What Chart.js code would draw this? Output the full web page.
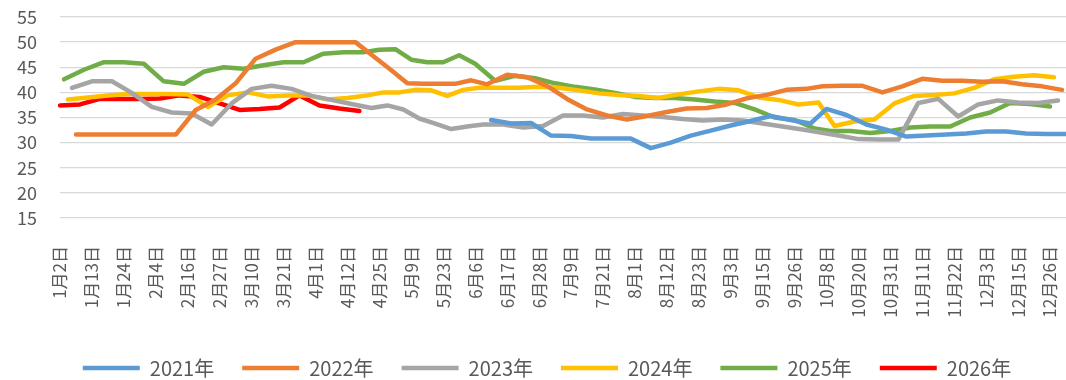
<!DOCTYPE html>
<html>
<head>
<meta charset="utf-8">
<script src="https://cdn.jsdelivr.net/npm/chart.js@4.4.1/dist/chart.umd.min.js"></script>
<style>
  html, body { margin: 0; padding: 0; background: #fff; }
  #wrap { width: 1066px; height: 380px; }
</style>
</head>
<body>
<div id="wrap"><canvas id="priceChart" width="1066" height="380"></canvas></div>
<script>
// weekly Friday quotes, one array per year; null = no quote that week
var seriesNames = ['2021年', '2022年', '2023年', '2024年', '2025年', '2026年'];
var seriesColors = ['#5B9BD5', '#ED7D31', '#A5A5A5', '#FFC000', '#70AD47', '#FF0000'];
var firstDates = ['2021-06-11', '2022-01-07', '2023-01-06', '2024-01-05', '2025-01-03', '2026-01-02'];

var v2021 = [34.5, 33.8, 33.9, 31.4, 31.3, 30.8, 30.8, 30.8, 28.9, 30.0,
             31.4, 32.4, 33.4, 34.3, 35.3, 34.5, 33.8, 36.7, 35.5, 33.6,
             32.6, 31.2, 31.4, 31.6, 31.8, 32.2, 32.2, 31.8, 31.7, 31.7];
var v2022 = [31.6, 31.6, 31.6, 31.6, 31.6, 31.6, 36.5, 38.6, 41.8, 46.7,
             48.5, 50.0, 50.0, 50.0, 50.0, 46.9, 44.4, 41.8, 41.7, 41.7,
             41.7, 42.4, 41.6, 43.5, 43.0, 41.3, 38.7, 36.6, 35.4, 34.6,
             35.3, 36.1, 36.8, 36.9, 37.6, 38.8, 39.5, 40.5, 40.7, 41.2,
             41.3, 41.3, 40.0, 41.2, 42.7, 42.3, 42.3, 42.1, 42.2, 41.6,
             41.2, 40.5];
var v2023 = [40.9, 42.2, 42.2, 39.9, 37.1, 36.0, 35.8, 33.6, 37.8, 40.7,
             41.3, 40.7, 39.3, 38.5, 37.7, 36.9, 37.4, 36.6, 34.8, 33.8,
             32.7, 33.2, 33.6, 33.6, 33.0, 33.3, 35.4, 35.4, 35.0, 35.7,
             35.4, 35.1, 34.7, 34.4, 34.6, 34.4, 33.8, 33.2, 32.6, null,
             31.4, 30.7, 30.6, 30.6, 37.9, 38.7, 35.2, 37.6, 38.4, 38.0,
             37.9, 38.4];
var v2024 = [38.6, 39.0, 39.4, 39.7, 39.7, 39.7, 39.6, 37.1, 39.4, 40.0,
             39.2, 39.4, 39.4, 38.6, 38.9, 39.4, 40.0, 40.0, 40.5, 40.4,
             39.3, 40.5, 40.9, 40.9, 40.9, 41.1, 40.9, 40.4, 39.8, 39.5,
             39.3, 38.9, 39.6, 40.2, 40.7, 40.4, 39.0, 38.5, 37.6, 38.0,
             33.3, 34.2, 34.6, 37.8, 39.3, 39.5, 39.8, 40.9, 42.6, 43.1,
             43.4, 43.0];
var v2025 = [42.6, 44.5, 46.0, 46.0, 45.7, 42.2, 41.7, 44.1, 45.0, 44.7,
             45.4, 46.0, 46.0, 47.7, 48.0, 48.0, 48.5, 48.6, 46.5, 46.0,
             46.0, 47.4, 45.7, 42.3, 43.3, 42.8, 41.8, 41.1, 40.6, 39.9,
             39.1, 38.9, 38.9, 38.6, 38.2, 37.9, 36.6, 35.0, 34.5, 32.8,
             32.3, 32.3, 31.9, 32.3, 33.0, 33.2, 33.2, 35.0, 36.0, 37.9,
             37.7, 37.2];
var v2026 = [37.4, 37.6, 38.7, 38.7, 38.7, 38.8, 39.4, 39.1, 37.8, 36.5,
             36.7, 37.0, 39.4, 37.4, 36.8, 36.3];

var allValues = [v2021, v2022, v2023, v2024, v2025, v2026];
var yTicks = { min: 15, max: 55, step: 5 };
var labelEvery = 8;

// every year's quotes keyed by month/day, so all years share one axis
var weekly = allValues.map(function (vals, s) {
  var p = firstDates[s].split('-').map(Number);
  return vals.map(function (v, k) {
    var d = new Date(p[0], p[1] - 1, p[2] + 7 * k);
    return { key: (d.getMonth() + 1) * 100 + d.getDate(), y: v };
  });
});

var keys = [];
weekly.forEach(function (list) {
  list.forEach(function (pt) {
    if (pt.y !== null && keys.indexOf(pt.key) < 0) keys.push(pt.key);
  });
});
keys.sort(function (a, b) { return a - b; });
var categories = keys.map(function (k) { return Math.floor(k / 100) + '月' + (k % 100) + '日'; });

var datasets = weekly.map(function (list, s) {
  var data = keys.map(function () { return null; });
  list.forEach(function (pt) {
    if (pt.y !== null) data[keys.indexOf(pt.key)] = pt.y;
  });
  return {
    label: seriesNames[s],
    data: data,
    borderColor: seriesColors[s],
    backgroundColor: seriesColors[s],
    borderWidth: 4.5,
    borderCapStyle: 'round',
    borderJoinStyle: 'round',
    pointRadius: 0,
    pointHoverRadius: 0,
    tension: 0,
    spanGaps: true
  };
});

var textColor = '#595959';
var fontFamily = '"Noto Sans CJK SC", "Noto Sans", sans-serif';

// nudge the legend row a little to the right of the canvas centre
var legendShift = {
  id: 'legendShift',
  afterLayout: function (chart) {
    chart.legend.left += 28;
  }
};

new Chart(document.getElementById('priceChart'), {
  type: 'line',
  data: { labels: categories, datasets: datasets },
  plugins: [legendShift],
  options: {
    responsive: false,
    animation: false,
    layout: { padding: { top: 17, right: 0, left: 0, bottom: -8 } },
    plugins: {
      tooltip: { enabled: false },
      legend: {
        position: 'bottom',
        labels: {
          usePointStyle: true,
          pointStyle: 'line',
          pointStyleWidth: 57,
          color: textColor,
          font: { family: fontFamily, size: 20 },
          padding: 28
        }
      }
    },
    scales: {
      x: {
        grid: { display: false },
        border: { display: false },
        ticks: {
          autoSkip: false,
          minRotation: 90,
          maxRotation: 90,
          padding: 20,
          color: textColor,
          font: { family: fontFamily, size: 17 },
          callback: function (val, i) {
            return i % labelEvery === 0 ? this.getLabelForValue(val) : '';
          }
        },
        afterFit: function (s) {
          s.height = 112;
          s.paddingLeft = 0;
          s.paddingRight = 0;
        }
      },
      y: {
        min: yTicks.min,
        max: yTicks.max,
        grid: { color: '#D9D9D9', lineWidth: 1.3, drawTicks: false },
        border: { display: false },
        ticks: {
          stepSize: yTicks.step,
          padding: 23,
          color: textColor,
          font: { family: fontFamily, size: 18 }
        },
        afterFit: function (s) {
          s.width = 60;
          s.paddingTop = 0;
          s.paddingBottom = 0;
        }
      }
    }
  }
});
</script>
</body>
</html>
